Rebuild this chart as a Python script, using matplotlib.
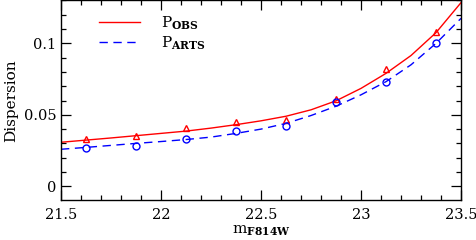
import numpy as np
import matplotlib
matplotlib.use('Agg')
import matplotlib.pyplot as plt
from matplotlib.ticker import MultipleLocator

# Courbes
x_curve = [21.5, 21.625, 21.75, 21.875, 22.0, 22.125, 22.25, 22.375, 22.5,
           22.625, 22.75, 22.875, 23.0, 23.125, 23.25, 23.375, 23.5]
obs_curve = [0.0308, 0.0323, 0.0338, 0.0354, 0.0370, 0.0386, 0.0407, 0.0431, 0.0458,
             0.0490, 0.0535, 0.0598, 0.0685, 0.0790, 0.0915, 0.1075, 0.1285]
arts_curve = [0.0259, 0.0272, 0.0286, 0.0300, 0.0313, 0.0327, 0.0344, 0.0370, 0.0400,
              0.0440, 0.0495, 0.0560, 0.0640, 0.0732, 0.0850, 0.1000, 0.1175]

# Points mesurés
x_pts = [21.625, 21.875, 22.125, 22.375, 22.625, 22.875, 23.125, 23.375]
obs_pts = [0.0331, 0.0354, 0.0406, 0.0452, 0.0466, 0.0610, 0.0818, 0.1080]
arts_pts = [0.0268, 0.0284, 0.0331, 0.0384, 0.0423, 0.0590, 0.0732, 0.1002]

plt.rcParams['font.family'] = 'DejaVu Serif'
plt.rcParams['mathtext.fontset'] = 'dejavuserif'

fig = plt.figure(figsize=(4.77, 2.40), dpi=100)
ax = fig.add_axes([0.1279, 0.1667, 0.8386, 0.8313])

ax.plot(x_curve, obs_curve, color='red', lw=1.0, label=r'P$_{\mathbf{OBS}}$')
ax.plot(x_curve, arts_curve, color='blue', lw=1.0, linestyle=(0, (6.0, 4.0)),
        label=r'P$_{\mathbf{ARTS}}$')
ax.plot(x_pts, obs_pts, linestyle='none', marker='^', ms=4.5, mfc='none',
        mec='red', mew=1.0)
ax.plot(x_pts, arts_pts, linestyle='none', marker='o', ms=5, mfc='none',
        mec='blue', mew=1.0)

ax.set_xlim(21.5, 23.5)
ax.set_ylim(-0.0096, 0.13)
ax.xaxis.set_major_locator(MultipleLocator(0.5))
ax.xaxis.set_minor_locator(MultipleLocator(0.1))
ax.yaxis.set_major_locator(MultipleLocator(0.05))
ax.yaxis.set_minor_locator(MultipleLocator(0.01))
ax.xaxis.set_major_formatter(plt.FuncFormatter(lambda v, p: f'{v:g}'))
ax.yaxis.set_major_formatter(plt.FuncFormatter(lambda v, p: f'{v:g}'))
ax.tick_params(which='both', direction='in', top=True, right=True, labelsize=10.5,
               width=0.9)
ax.tick_params(which='major', length=7)
ax.tick_params(which='minor', length=3.5)
ax.tick_params(axis='x', which='major', pad=6)
for s in ax.spines.values():
    s.set_linewidth(1.0)

ax.set_xlabel(r'm$_{\mathbf{F814W}}$', fontsize=11, labelpad=1)
ax.set_ylabel('Dispersion', fontsize=11, labelpad=4)

ax.legend(loc='upper left', bbox_to_anchor=(0.06, 1.0), frameon=False,
          handlelength=2.7, handletextpad=1.4, labelspacing=0.2, fontsize=11)

fig.savefig('out.png', dpi=100)
